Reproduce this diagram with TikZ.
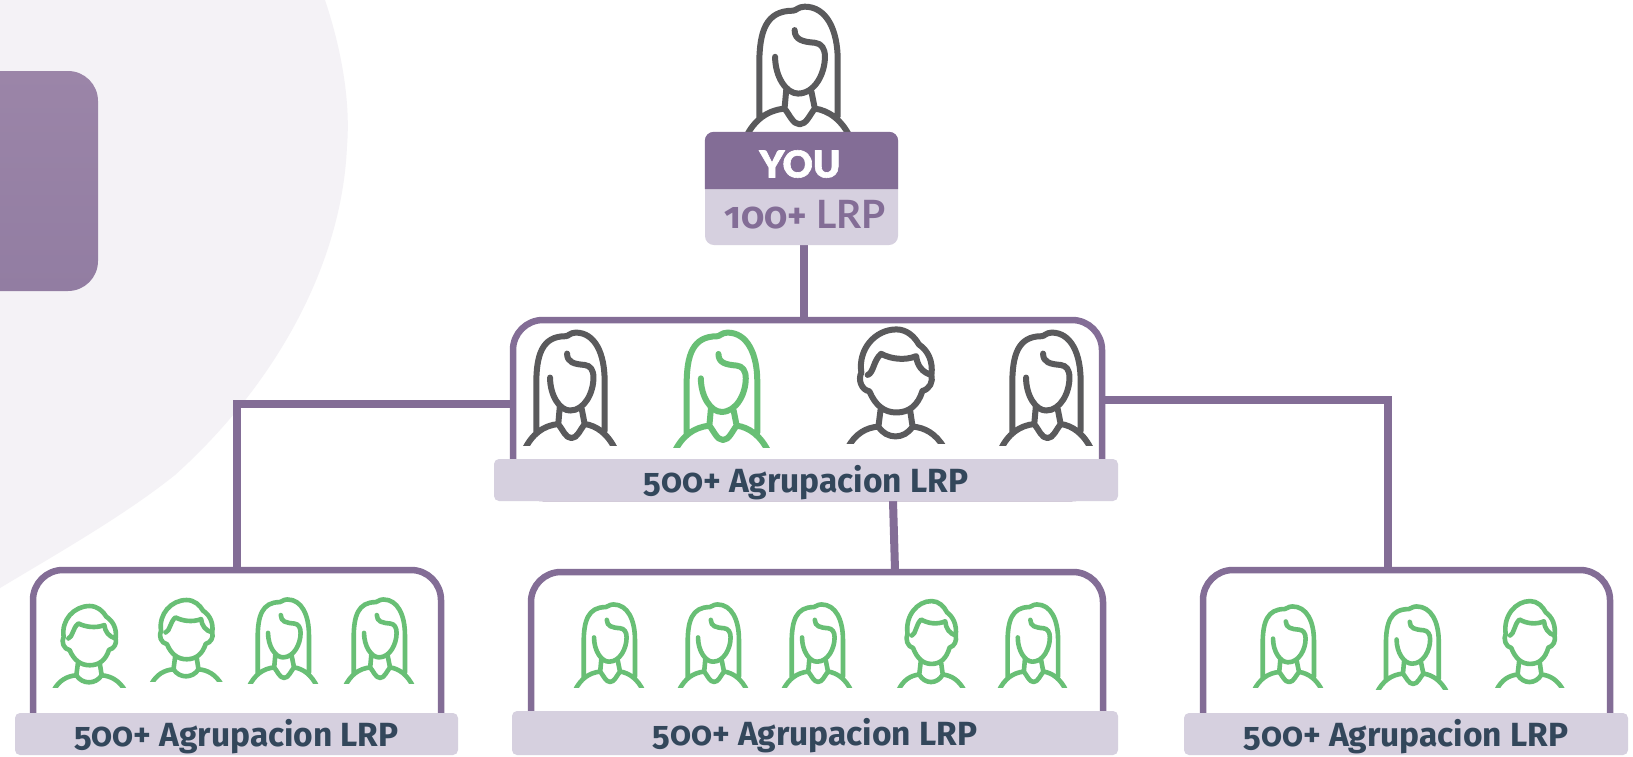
\documentclass[tikz,border=0pt]{standalone}
\usepackage{fontspec}
\setmainfont[Numbers=OldStyle]{Fira Sans}
\newfontfamily\capfont{Lato}
\newfontfamily\heavyfont[FakeBold=1.6]{Lato Black}
\definecolor{lrppurple}{HTML}{836D96}
\definecolor{lrplight}{HTML}{D6D0DF}
\definecolor{lrpgreen}{HTML}{68BF75}
\definecolor{lrpgrey}{HTML}{5A5A5C}
\definecolor{lrpink}{HTML}{33475B}
\definecolor{lrpblob}{HTML}{F4F2F6}
\definecolor{tabtop}{HTML}{9B85A8}
\definecolor{tabbot}{HTML}{927DA2}
\newcommand{\womanicon}[6]{%
 \pgfmathsetmacro{\sx}{#3/300}\pgfmathsetmacro{\sy}{#4/377}%
 \begin{scope}[shift={(#1,#2)},xscale=\sx,yscale=\sy]
  \clip (-175,-20) rectangle (175,377);
  \draw[#5,line width=#6pt,line cap=round,line join=round,fill=none]
   (-115,335) -- (-115,175) .. controls (-115,75) and (-95,14) .. (-15,14) .. controls (-5,14) and (0,2) .. (20,2) .. controls (85,2) and (118,72) .. (118,162) -- (118,330)
   (-68,152) .. controls (-68,212) and (-35,262) .. (0,262) .. controls (50,262) and (80,202) .. (80,152) .. controls (80,127) and (70,112) .. (50,110) .. controls (15,107) and (-10,102) .. (-10,72)
   (-35,252) -- (-40,307) (40,257) -- (50,307)
   (-156,395) .. controls (-130,340) and (-90,312) .. (-40,307) .. controls (-25,325) and (-15,354) .. (5,354) .. controls (25,354) and (35,325) .. (50,307) .. controls (90,312) and (130,340) .. (156,395);
 \end{scope}}
\newcommand{\manicon}[6]{%
 \pgfmathsetmacro{\sx}{#3/207}\pgfmathsetmacro{\sy}{#4/245}%
 \begin{scope}[shift={(#1,#2)},xscale=\sx,yscale=\sy]
  \clip (-125,-15) rectangle (125,245);
  \draw[#5,line width=#6pt,line cap=round,line join=round,fill=none]
   (-76,95) .. controls (-84,45) and (-45,3) .. (2,3) .. controls (25,3) and (42,18) .. (52,35) .. controls (72,48) and (84,70) .. (80,100) .. controls (84,115) and (76,130) .. (60,134)
   (-62,100) .. controls (-48,95) and (-50,70) .. (-32,55) .. controls (-10,66) and (20,70) .. (46,60) .. controls (48,80) and (60,95) .. (80,100)
   (-76,95) .. controls (-84,110) and (-76,132) .. (-58,135) .. controls (-45,165) and (-25,180) .. (2,180) .. controls (30,180) and (50,165) .. (60,134)
   (-33,172) -- (-38,210) (32,172) -- (38,210)
   (-106,255) .. controls (-90,225) and (-65,212) .. (-38,210) .. controls (-20,238) and (20,238) .. (38,210) .. controls (65,212) and (90,225) .. (108,255);
 \end{scope}}
\tikzset{
 panel/.style={draw=lrppurple,line width=6.5pt,fill=white,rounded corners=30pt,inner sep=0pt,outer sep=0pt},
 lrpbar/.style={fill=lrplight,rounded corners=5pt,inner sep=0pt,outer sep=0pt,text=lrpink,text depth=2pt,font=\fontsize{33.5}{33.5}\selectfont\bfseries},
 conn/.style={draw=lrppurple,line width=8pt},
 greenic/.style={draw=lrpgreen},
 greyic/.style={draw=lrpgrey}
}
\begin{document}
\begin{tikzpicture}[x=1pt,y=-1pt]
\useasboundingbox (0,0) rectangle (1633,756);
\fill[white] (0,0) rectangle (1633,756);
\fill[lrpblob] (0,0) -- (325,0) .. controls (345,60) and (350,110) .. (347,146) .. controls (342,265) and (275,385) .. (175,475) .. controls (125,515) and (60,552) .. (0,588) -- cycle;
\shade[top color=tabtop,bottom color=tabbot] (0,71) [rounded corners=30pt] -- (98,71) -- (98,291) [sharp corners] -- (0,291) -- cycle;

% panels
\node[panel,minimum width=589pt,minimum height=178pt] (panelM) at (807.5,409) {};
\node[panel,minimum width=408pt,minimum height=180pt] (panelL) at (237,660) {};
\node[panel,minimum width=572pt,minimum height=178pt] (panelC) at (817,661) {};
\node[panel,minimum width=407pt,minimum height=180pt] (panelR) at (1406.5,660) {};

% connectors
\coordinate (youOut) at (804,245);
\coordinate (panelTop) at (804,317);
\coordinate (leftOut) at (512,404);
\coordinate (rightOut) at (1102,400);
\coordinate (rightIn) at (1388,568);
\coordinate (midOut) at (893,501);
\coordinate (midIn) at (895,570);
\draw[conn] (youOut) -- (panelTop);
\draw[conn] (leftOut) -| (panelL.north);
\draw[conn] (rightOut) -| (rightIn);
\draw[conn] (midOut) -- (midIn);

% icons
\womanicon{798}{6}{101}{126}{greyic}{6}
\womanicon{570}{332}{88}{113}{greyic}{6}
\womanicon{721.5}{332}{91}{115}{greenic}{6}
\manicon{895.5}{328}{93}{115}{greyic}{6}
\womanicon{1046}{332}{88}{113}{greyic}{6}
\manicon{89}{605}{69}{82}{greenic}{4.6}
\manicon{186}{599}{68}{82}{greenic}{4.6}
\womanicon{283}{599}{66}{84}{greenic}{4.6}
\womanicon{379}{599}{66}{84}{greenic}{4.6}
\womanicon{609}{604}{66}{83}{greenic}{4.6}
\womanicon{713}{604}{66}{83}{greenic}{4.6}
\womanicon{817}{604}{66}{83}{greenic}{4.6}
\manicon{931}{600}{64}{87}{greenic}{4.6}
\womanicon{1032.5}{604}{65}{83}{greenic}{4.6}
\womanicon{1288}{606}{66}{81}{greenic}{4.6}
\womanicon{1412}{606}{68}{83}{greenic}{4.6}
\manicon{1529.5}{600}{65}{87}{greenic}{4.6}

% bars
\node[lrpbar,minimum width=624pt,minimum height=42pt] (barM) at (806,480) {500+ Agrupacion LRP};
\node[lrpbar,minimum width=443pt,minimum height=42pt] (barL) at (236.5,734) {500+ Agrupacion LRP};
\node[lrpbar,minimum width=606pt,minimum height=44pt] (barC) at (815,733) {500+ Agrupacion LRP};
\node[lrpbar,minimum width=444pt,minimum height=42pt] (barR) at (1406,734) {500+ Agrupacion LRP};

% YOU box
\node[fill=lrplight,rounded corners=9pt,inner sep=0pt,minimum width=193pt,minimum height=113pt] (youBox) at (801.5,188.5) {};
\fill[lrppurple] (youBox.west |- 0,189) [rounded corners=9pt] -- (youBox.north west) -- (youBox.north east) [sharp corners] -- (youBox.east |- 0,189) -- cycle;
\node[text=white,inner sep=0pt,font=\heavyfont\fontsize{37}{37}\selectfont] (youLabel) at (800,164) {YOU};
\node[text=lrppurple,inner sep=0pt,anchor=base,font=\fontsize{37}{37}\selectfont] (lrpLabel) at (805,228) {\bfseries 100+ \capfont\fontsize{39}{39}\selectfont LRP};
\end{tikzpicture}
\end{document}
